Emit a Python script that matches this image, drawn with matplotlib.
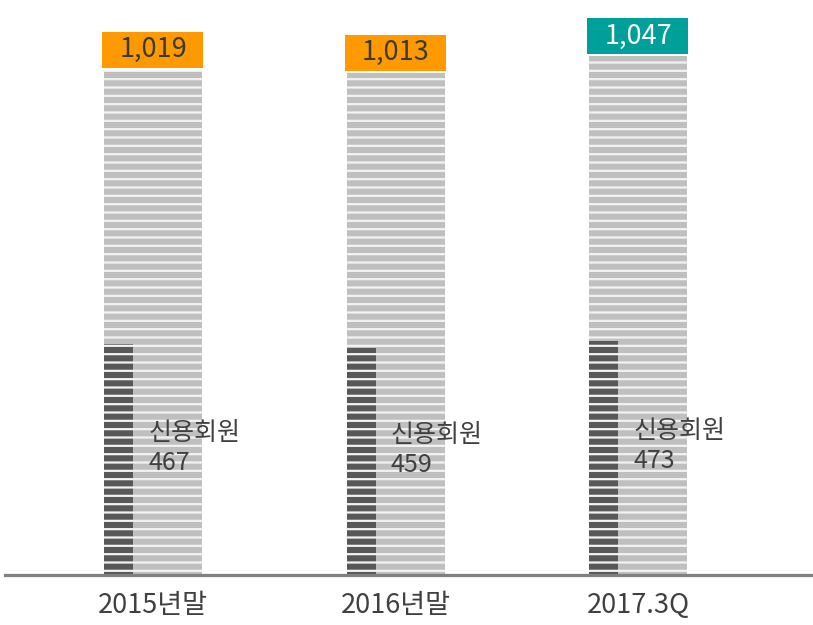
import matplotlib
matplotlib.use('Agg')
import matplotlib.pyplot as plt
import numpy as np

plt.rcParams['font.family'] = ['Noto Sans CJK KR', 'DejaVu Sans']
plt.rcParams['hatch.linewidth'] = 1.6

periods = ['2015년말', '2016년말', '2017.3Q']
total_members = [1019, 1013, 1047]
credit_members = [467, 459, 473]
inner_label = '신용회원'

box_colors = ['#ff9900', '#ff9900', '#00a09a']
box_text_colors = ['#3a3a3a', '#3a3a3a', '#ffffff']

fig = plt.figure(figsize=(8.13, 6.25), dpi=100)
ax = fig.add_axes([5 / 813, 50 / 625, 808 / 813, 565 / 625])

x = np.arange(len(periods))
bar_w = 0.404
dark_w = 0.12
left = x - bar_w / 2

# total bars (striped light gray)
ax.bar(left, total_members, width=bar_w, align='edge', color='#bfbfbf',
       edgecolor='#f2f2f2', linewidth=0, hatch='--', zorder=2)
# credit members (striped dark gray, narrow, left aligned)
ax.bar(left, credit_members, width=dark_w, align='edge', color='#585858',
       edgecolor='#f2f2f2', linewidth=0, hatch='--', zorder=3)

# value boxes on top
box_h = 73
gap = 4
ax.bar(left - 0.008, [box_h] * 3, bottom=np.array(total_members) + gap,
       width=bar_w + 0.012, align='edge', color=box_colors, linewidth=0, zorder=4)
for i, v in enumerate(total_members):
    ax.text(x[i], v + gap + box_h / 2, f'{v:,}', ha='center', va='center',
            fontsize=19.5, color=box_text_colors[i], fontweight='medium', zorder=5)

# inner labels
for i, v in enumerate(credit_members):
    ax.text(x[i] - 0.02, v * 0.55, f'{inner_label}\n{v}', ha='left', va='center',
            fontsize=18, color='#404040', linespacing=1.2, fontweight='medium', zorder=5)

ax.axhline(0, color='#808080', lw=2.3, zorder=6, clip_on=False)

ax.set_xlim(-0.61, 2.72)
ax.set_ylim(0, 1140)
ax.set_xticks(x, periods)
ax.tick_params(axis='x', length=0, pad=12, labelsize=19.5, labelcolor='#404040')
for lbl in ax.get_xticklabels():
    lbl.set_fontweight('medium')
ax.set_yticks([])
for s in ax.spines.values():
    s.set_visible(False)

fig.savefig('out.png', dpi=100)
